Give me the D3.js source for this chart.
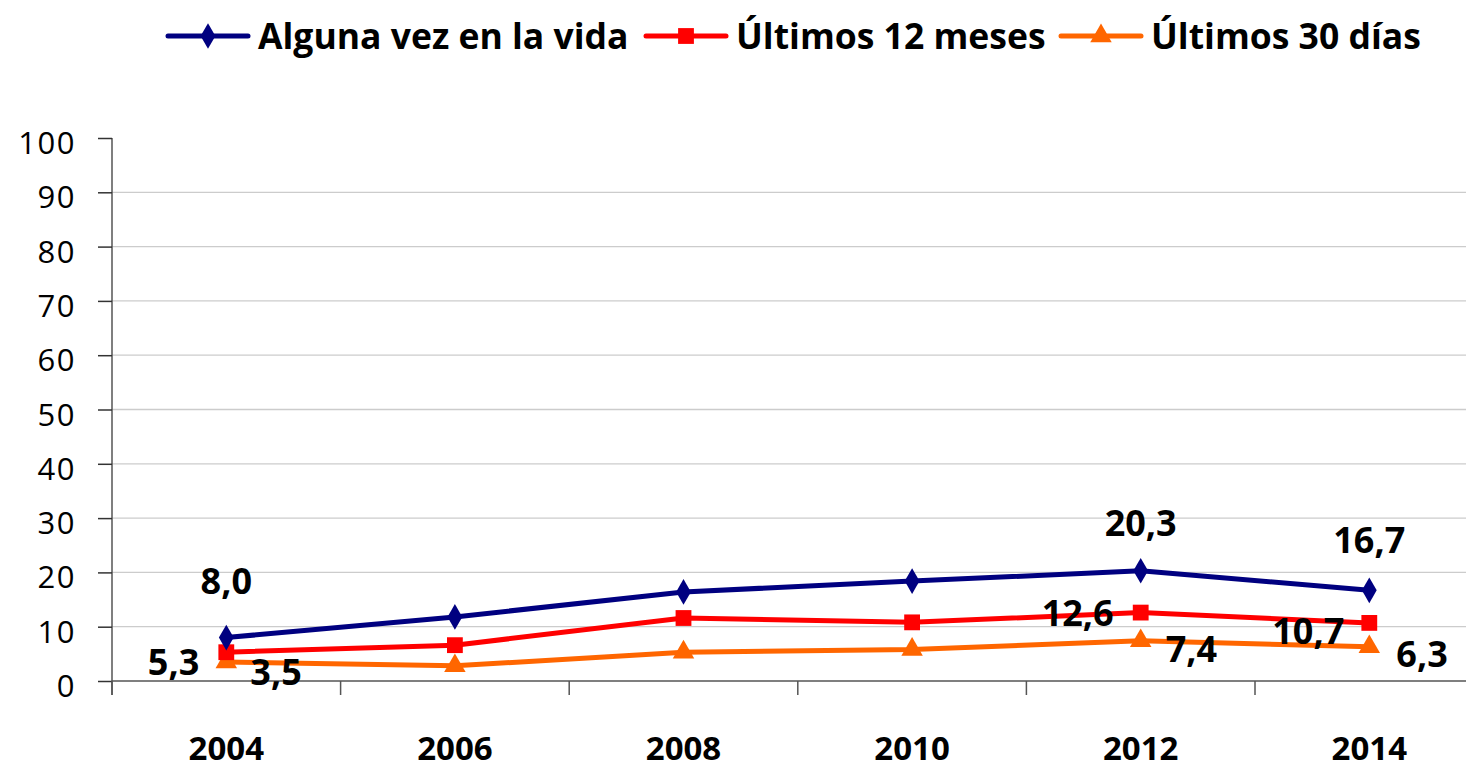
<!DOCTYPE html>
<html><head><meta charset="utf-8">
<script src="https://cdn.jsdelivr.net/npm/d3@7"></script>
<style>
body{margin:0;background:#fff;}
text{font-family:"Open Sans",Lato,sans-serif;}
</style></head>
<body><svg id="c" width="1466" height="770"></svg>
<script>
const years = ["2004","2006","2008","2010","2012","2014"];
const alguna = [8.0, 11.8, 16.4, 18.4, 20.3, 16.7];
const meses = [5.3, 6.6, 11.6, 10.8, 12.6, 10.7];
const dias = [3.5, 2.8, 5.3, 5.8, 7.4, 6.3];
const seriesNames = ["Alguna vez en la vida","Últimos 12 meses","Últimos 30 días"];
const yTicks = [0,10,20,30,40,50,60,70,80,90,100];
// labels shown: [seriesIndex, yearIndex, dx, dy(center offset), anchor]
const labelSpec = [
  [0,0,0,-57,"middle"],[1,0,-27,10,"end"],[2,0,24,10,"start"],
  [0,4,0,-48,"middle"],[1,4,-27,0,"end"],[2,4,25,8,"start"],
  [0,5,0,-50,"middle"],[1,5,-25,8,"end"],[2,5,27,7,"start"]
];
const colors = ["#000080","#FF0000","#FF6600"];
const symbols = [d3.symbolDiamond, d3.symbolSquare, d3.symbolTriangle];
const symSizes = [190, 250, 200];

const svg = d3.select("#c");
const x = d3.scaleBand().domain(years).range([112, 112 + 6*228.6]);
const y = d3.scaleLinear().domain([0,100]).range([681,138]);
const cx = d => x(d) + x.bandwidth()/2;

// gridlines
svg.append("g").selectAll("line").data(yTicks.filter(t=>t>0 && t<100)).join("line")
  .attr("x1",112).attr("x2",1466).attr("y1",d=>y(d)).attr("y2",d=>y(d))
  .attr("stroke","#cccccc").attr("stroke-width",1.3);

// y axis
const yAxis = svg.append("g").attr("transform","translate(112,0)")
  .call(d3.axisLeft(y).tickValues(yTicks).tickSize(14).tickPadding(22).tickFormat(d3.format("d")));
yAxis.select(".domain").attr("d","M0,138V695").attr("stroke","#555").attr("stroke-width",1.5);
yAxis.selectAll(".tick line").attr("stroke","#333").attr("stroke-width",1.5);
yAxis.selectAll("text").attr("font-size",31).attr("fill","#000")
  .attr("letter-spacing",1.5).attr("dy","0.5em");

// x axis
const xAxis = svg.append("g").attr("transform","translate(0,681)")
  .call(d3.axisBottom(x).tickSize(0).tickPadding(0));
xAxis.select(".domain").attr("d","M112,0H1466").attr("stroke","#555").attr("stroke-width",1.5);
xAxis.selectAll("text").attr("font-size",33).attr("font-weight","bold").attr("fill","#000")
  .attr("y",79).attr("dy",0);
svg.append("g").selectAll("line").data(years).join("line")
  .attr("x1",d=>x(d)).attr("x2",d=>x(d)).attr("y1",681).attr("y2",695)
  .attr("stroke","#555").attr("stroke-width",1.5);

const allSeries = [alguna, meses, dias];
const line = d3.line().x((d,i)=>cx(years[i])).y(d=>y(d));
// draw bottom-to-top: orange, red, blue
[2,1,0].forEach(s=>{
  const g = svg.append("g");
  g.append("path").datum(allSeries[s]).attr("d",line).attr("fill","none")
    .attr("stroke",colors[s]).attr("stroke-width",5).attr("stroke-linejoin","round");
  g.selectAll("path.m").data(allSeries[s]).join("path").attr("class","m")
    .attr("transform",(d,i)=>`translate(${cx(years[i])},${y(d)})`)
    .attr("d",d3.symbol().type(symbols[s]).size(symSizes[s])).attr("fill",colors[s]);
});

// data labels
const fmt = v => v.toFixed(1).replace(".",",");
svg.append("g").selectAll("text").data(labelSpec).join("text")
  .attr("x",d=>cx(years[d[1]])+d[2]).attr("y",d=>y(allSeries[d[0]][d[1]])+d[3]+13)
  .attr("text-anchor",d=>d[4])
  .attr("font-size",36).attr("font-weight","bold").attr("fill","#000")
  .text(d=>fmt(allSeries[d[0]][d[1]]));

// legend
const legendX = [168, 646, 1061];
const lg = svg.append("g");
seriesNames.forEach((n,i)=>{
  const g = lg.append("g").attr("transform",`translate(${legendX[i]},36)`);
  g.append("line").attr("x1",0).attr("x2",80).attr("stroke",colors[i]).attr("stroke-width",5).attr("stroke-linecap","round");
  g.append("path").attr("transform","translate(40,0)").attr("d",d3.symbol().type(symbols[i]).size(symSizes[i])).attr("fill",colors[i]);
  g.append("text").attr("x",90).attr("y",13)
    .attr("font-size",35.5).attr("font-weight","bold").attr("fill","#000").text(n);
});
</script></body></html>
